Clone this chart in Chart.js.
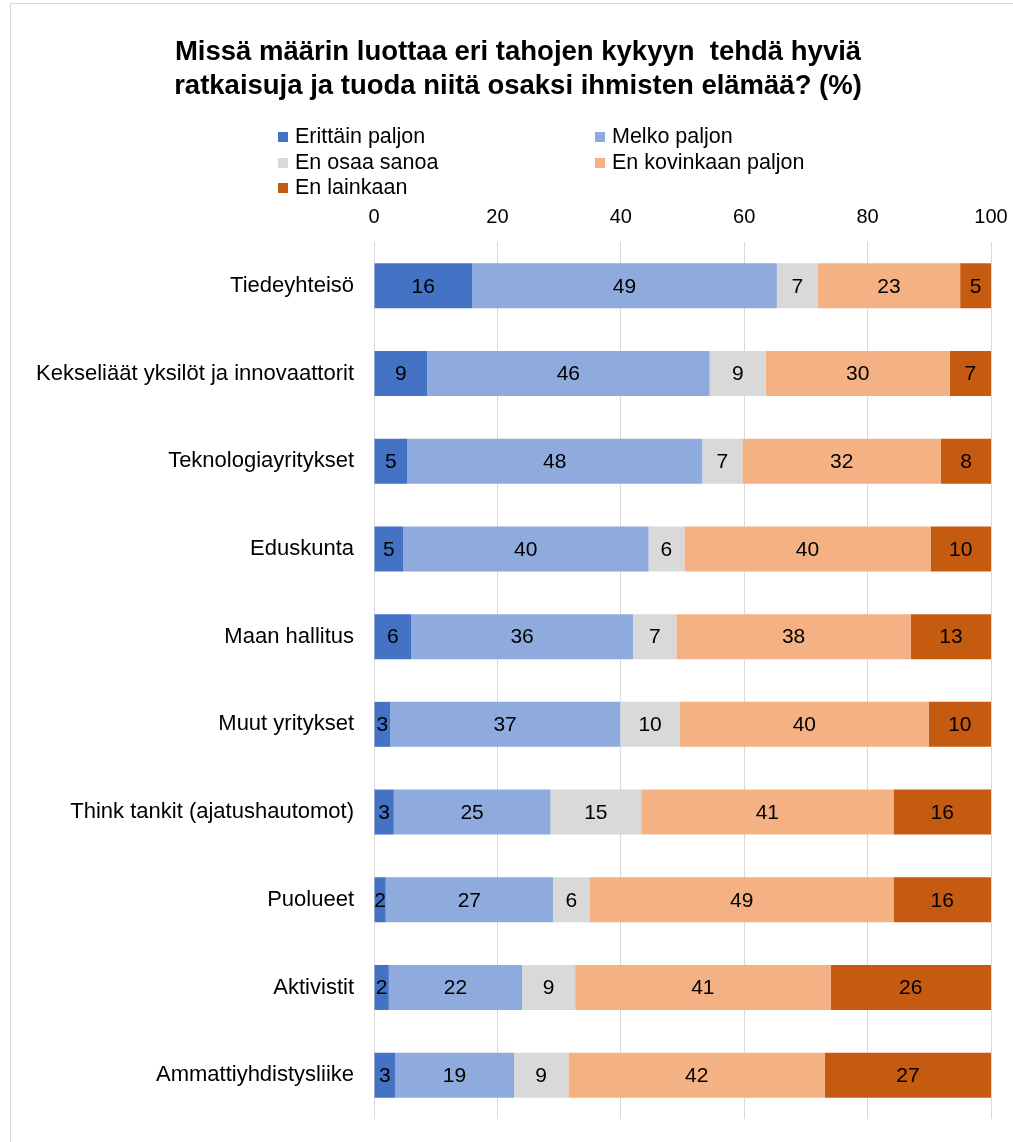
<!DOCTYPE html>
<html>
<head>
<meta charset="utf-8">
<script src="https://cdn.jsdelivr.net/npm/chart.js@4.4.1/dist/chart.umd.min.js"></script>
<style>
  html, body { margin: 0; padding: 0; background: #fff; }
  #wrap { position: relative; width: 1013px; height: 1142px; }
</style>
</head>
<body>
<div id="wrap"><canvas id="barChart" width="1013" height="1142"></canvas></div>
<script>
// Categories, top to bottom
const categories = [
    'Tiedeyhteisö',
    'Kekseliäät yksilöt ja innovaattorit',
    'Teknologiayritykset',
    'Eduskunta',
    'Maan hallitus',
    'Muut yritykset',
    'Think tankit (ajatushautomot)',
    'Puolueet',
    'Aktivistit',
    'Ammattiyhdistysliike'
];

const seriesNames = ['Erittäin paljon', 'Melko paljon', 'En osaa sanoa', 'En kovinkaan paljon', 'En lainkaan'];

// Shares in %
const erittainPaljon = [15.9, 8.6, 5.4, 4.7, 6.0, 2.6, 3.2, 1.9, 2.4, 3.4];
const melkoPaljon    = [49.4, 45.8, 47.8, 39.8, 36.0, 37.3, 25.4, 27.1, 21.6, 19.3];
const enOsaaSanoa    = [6.6, 9.1, 6.5, 5.8, 7.0, 9.7, 14.7, 6.0, 8.6, 8.8];
const enKovinkaan    = [23.1, 29.8, 32.2, 39.9, 38.0, 40.3, 40.9, 49.2, 41.4, 41.6];
const enLainkaan     = [5.0, 6.7, 8.1, 9.8, 13.0, 10.1, 15.8, 15.8, 26.0, 26.9];

const xTicks = [0, 20, 40, 60, 80, 100];

const titleLines = [
    'Missä määrin luottaa eri tahojen kykyyn  tehdä hyviä',
    'ratkaisuja ja tuoda niitä osaksi ihmisten elämää? (%)'
];

const colors = {
    darkBlue: '#4472C4',
    lightBlue: '#8FAADC',
    grey: '#D9D9D9',
    peach: '#F4B183',
    rust: '#C55A11'
};
const seriesColors = [colors.darkBlue, colors.lightBlue, colors.grey, colors.peach, colors.rust];
const seriesData = [erittainPaljon, melkoPaljon, enOsaaSanoa, enKovinkaan, enLainkaan];

const FONT = "'Liberation Sans', Arial, sans-serif";

// Title, legend and frame drawn straight on the canvas
const decorPlugin = {
    id: 'decor',
    afterDraw(chart) {
        const ctx = chart.ctx;
        ctx.save();
        // light frame on top and left edge
        ctx.strokeStyle = '#D9D9D9';
        ctx.lineWidth = 1;
        ctx.beginPath();
        ctx.moveTo(10.5, 1142);
        ctx.lineTo(10.5, 3.5);
        ctx.lineTo(1013, 3.5);
        ctx.stroke();

        // title
        ctx.fillStyle = '#000';
        ctx.font = 'bold 27.5px ' + FONT;
        ctx.textAlign = 'center';
        ctx.textBaseline = 'middle';
        ctx.fillText(titleLines[0], 518, 52);
        ctx.fillText(titleLines[1], 518, 86);

        // legend, two columns
        const cols = [278, 595];
        const rows = [137, 163, 188];
        ctx.font = '21.5px ' + FONT;
        ctx.textAlign = 'left';
        chart.data.datasets.forEach(function (ds, i) {
            const x = cols[i % 2];
            const y = rows[Math.floor(i / 2)];
            ctx.fillStyle = ds.backgroundColor;
            ctx.fillRect(x, y - 5, 10, 10);
            ctx.fillStyle = '#000';
            ctx.fillText(ds.label, x + 17, y);
        });
        ctx.restore();
    }
};

// Rounded value in the middle of each segment
const valueLabels = {
    id: 'valueLabels',
    afterDatasetsDraw(chart) {
        const ctx = chart.ctx;
        ctx.save();
        ctx.font = '21px ' + FONT;
        ctx.fillStyle = '#000';
        ctx.textAlign = 'center';
        ctx.textBaseline = 'middle';
        chart.data.datasets.forEach(function (ds, i) {
            const meta = chart.getDatasetMeta(i);
            meta.data.forEach(function (bar, j) {
                const cx = (bar.x + bar.base) / 2;
                ctx.fillText(String(Math.round(ds.data[j])), cx, bar.y + 1);
            });
        });
        ctx.restore();
    }
};

const barCtx = document.getElementById('barChart').getContext('2d');
const barChart = new Chart(barCtx, {
    type: 'bar',
    data: {
        labels: categories,
        datasets: seriesNames.map(function (name, i) {
            return {
                label: name,
                data: seriesData[i],
                backgroundColor: seriesColors[i],
                borderWidth: 0,
                barPercentage: 0.513,
                categoryPercentage: 1.0
            };
        })
    },
    options: {
        indexAxis: 'y',
        responsive: false,
        animation: false,
        layout: {
            padding: { top: 192, left: 0, right: 22, bottom: 23 }
        },
        scales: {
            x: {
                position: 'top',
                stacked: true,
                min: 0,
                max: 100,
                afterBuildTicks: function (scale) {
                    scale.ticks = xTicks.map(function (v) { return { value: v }; });
                },
                afterFit: function (scale) {
                    scale.paddingLeft = 0;
                    scale.paddingRight = 0;
                },
                grid: {
                    color: '#D9D9D9',
                    drawTicks: false
                },
                border: { display: false },
                ticks: {
                    padding: 13,
                    color: '#000',
                    maxRotation: 0,
                    font: { size: 20, family: FONT }
                }
            },
            y: {
                stacked: true,
                grid: { display: false, drawTicks: false },
                border: { display: false },
                afterFit: function (scale) {
                    scale.width = 374;
                    scale.paddingTop = 0;
                    scale.paddingBottom = 0;
                },
                ticks: {
                    padding: 20,
                    color: '#000',
                    font: { size: 22, family: FONT }
                }
            }
        },
        plugins: {
            legend: { display: false },
            title: { display: false },
            tooltip: { enabled: false }
        }
    },
    plugins: [valueLabels, decorPlugin]
});
</script>
</body>
</html>
